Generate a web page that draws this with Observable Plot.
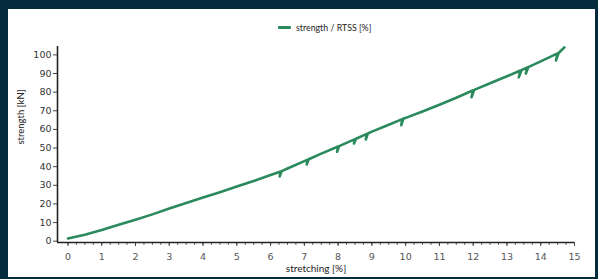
<!DOCTYPE html>
<html>
<head>
<meta charset="utf-8">
<script src="https://cdn.jsdelivr.net/npm/d3@7"></script>
<script src="https://cdn.jsdelivr.net/npm/@observablehq/plot@0.6"></script>
<style>
  html, body { margin: 0; padding: 0; background: #032b3b; }
  #wrap { position: relative; width: 598px; height: 279px; overflow: hidden; background: #032b3b; }
  #panel { position: absolute; left: 8px; top: 9px; width: 587px; height: 268px; background: #ffffff; }
  #chart { position: absolute; left: 0; top: 0; }
  #legend { position: absolute; left: 278px; top: 22px; font: 8.8px Lato, "Open Sans", sans-serif; color: #222; display: flex; align-items: center; white-space: nowrap; }
  #legend .sw { display: inline-block; width: 13px; height: 3px; background: #2a8a5c; border-radius: 1px; margin-right: 5px; }
</style>
</head>
<body>
<div id="wrap">
  <div id="panel"></div>
  <div id="chart"></div>
  <div id="legend"><span class="sw"></span><span>strength / RTSS [%]</span></div>
</div>
<script>
// stretching [%]
const stretching = [
  0, 0.5, 1, 1.5, 2, 2.5, 3, 3.5, 4, 4.5, 5, 5.5, 6,
  6.3, 6.27, 6.33,
  6.5, 7,
  7.1, 7.07, 7.13,
  7.5, 8.0, 7.97, 8.03,
  8.5, 8.47, 8.53,
  8.85, 8.82, 8.88,
  9.0, 9.5, 9.9, 9.87, 9.93,
  10, 10.5, 11, 11.5,
  12.0, 11.95, 12.03,
  12.5, 13, 13.4, 13.35, 13.43,
  13.6, 13.56, 13.63,
  14, 14.5, 14.45, 14.53,
  14.7
];
// strength [kN]
const strength = [
  1.5, 3.5, 6.0, 8.8, 11.5, 14.4, 17.5, 20.5, 23.4, 26.3, 29.3, 32.3, 35.5,
  37.4, 34.8, 37.6,
  39.0, 43.0,
  43.8, 41.2, 44.0,
  47.0, 50.8, 48.0, 51.0,
  54.8, 52.4, 55.0,
  57.6, 54.6, 57.8,
  58.8, 62.5, 65.5, 62.3, 65.7,
  66.2, 69.6, 73.2, 77.0,
  81.0, 77.3, 81.2,
  84.8, 88.5, 91.6, 88.0, 91.8,
  93.2, 90.0, 93.4,
  96.5, 100.8, 97.0, 101.0,
  104.0
];
const xTicks = [0, 1, 2, 3, 4, 5, 6, 7, 8, 9, 10, 11, 12, 13, 14, 15];
const yTicks = [0, 10, 20, 30, 40, 50, 60, 70, 80, 90, 100];

const data = stretching.map((x, i) => ({ x, y: strength[i] }));
const xMin = -0.31, xMax = 15;
const yMin = -0.7, yMax = 104.5;
const minorX = d3.range(0, 60.5, 1).map(i => i / 4);

const chart = Plot.plot({
  width: 598,
  height: 279,
  marginLeft: 57,
  marginRight: 24,
  marginTop: 46,
  marginBottom: 37,
  style: { background: "transparent", fontFamily: "'DejaVu Sans', sans-serif", fontSize: "9.5px", color: "#444" },
  x: { domain: [xMin, xMax] },
  y: { domain: [yMin, yMax] },
  marks: [
    Plot.axisX({ ticks: minorX, tickSize: 3, tickFormat: () => "", label: null, stroke: "#666" }),
    Plot.axisX({ ticks: xTicks, tickSize: 4, tickPadding: 7, label: null, fill: "#555", stroke: "#444" }),
    Plot.axisY({ ticks: yTicks, tickSize: 4, tickPadding: 2, label: null, fill: "#333", stroke: "#444" }),
    Plot.ruleX([xMin], { stroke: "#222", strokeWidth: 1.6 }),
    Plot.ruleY([yMin], { stroke: "#222", strokeWidth: 1.6 }),
    Plot.line(data, { x: "x", y: "y", stroke: "#2a8a5c", strokeWidth: 2.6, curve: "linear" }),
    Plot.text(["stretching [%]"], { frameAnchor: "bottom", dy: 29, fontFamily: "Lato, 'Open Sans', sans-serif", fontSize: 10, fill: "#222" }),
    Plot.text(["strength [kN]"], { frameAnchor: "left", dx: -37, rotate: -90, fontFamily: "Lato, 'Open Sans', sans-serif", fontSize: 9.5, fill: "#222" })
  ]
});
document.getElementById("chart").appendChild(chart);
</script>
</body>
</html>
